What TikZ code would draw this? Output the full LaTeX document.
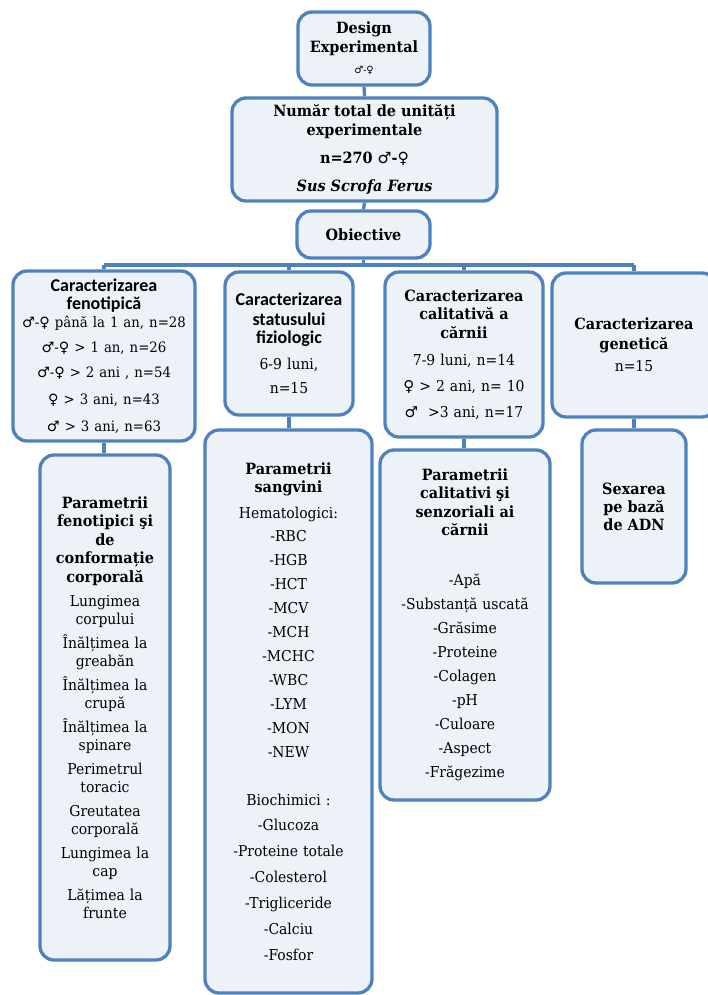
\documentclass[tikz,border=0pt]{standalone}
\usepackage{fontspec}
\setmainfont{DejaVu Serif}[FakeStretch=0.93]
\newfontfamily\headsans{Carlito}
\newfontfamily\symfont{DejaVu Sans}
\usetikzlibrary{positioning}
\definecolor{boxblue}{RGB}{79,129,189}
\definecolor{boxfill}{RGB}{237,242,249}
\newcommand{\msym}{{\symfont ♂}}
\newcommand{\fsym}{{\symfont ♀}}
\newcommand{\bodyfont}{\rmfamily\mdseries\fontsize{15}{17.5}\selectfont}
\newcommand{\headfont}{\bfseries\fontsize{15.5}{18.5}\selectfont}
\newcommand{\sansfont}{\headsans\bfseries\fontsize{18}{18}\selectfont}

\begin{document}
\begin{tikzpicture}[x=1pt,y=-1pt,
    box/.style={draw=boxblue, line width=3.3pt, fill=boxfill, rounded corners=14pt,
        align=center, inner sep=3pt, font=\bodyfont},
    link/.style={draw=boxblue, line width=3.3pt}]
    \useasboundingbox (0,0) rectangle (707,995);

    % Top of the tree
    \node[box, minimum width=132pt, minimum height=73pt, text width=124pt] (design) at (364,48.5)
        {\headfont Design\\Experimental\\[4pt]\mdseries\fontsize{10}{12}\selectfont\msym-\fsym};
    \node[box, minimum width=265pt, minimum height=103pt, text width=255pt] (total) at (364.5,149.5)
        {\headfont Număr total de unități\\experimentale\\[10pt]n=270 \msym-\fsym\\[10pt]\itshape Sus Scrofa Ferus};
    \node[box, minimum width=133pt, minimum height=47pt, text width=125pt] (obj) at (363.5,234.5)
        {\headfont Obiective};

    % Objectives
    \node[box, minimum width=182pt, minimum height=170pt, text width=176pt] (fen) at (104,356)
        {\sansfont Caracterizarea\\fenotipică\\[1pt]\bodyfont\fontsize{14.3}{17.5}\selectfont
         \msym-\fsym{} până la 1 an, n=28\\[7pt]\msym-\fsym{} > 1 an, n=26\\[8pt]\msym-\fsym{} > 2 ani , n=54\\[9pt]\fsym{} > 3 ani, n=43\\[10pt]\msym{} > 3 ani, n=63};
    \node[box, minimum width=128pt, minimum height=143pt, text width=122pt] (fiz) at (289,343.5)
        {\sansfont Caracterizarea\\[2pt]statusului\\fiziologic\\[8pt]\bodyfont 6-9 luni,\\[7pt]n=15};
    \node[box, minimum width=158pt, minimum height=165pt, text width=150pt] (cal) at (464,354.5)
        {\headfont Caracterizarea\\calitativă a\\cărnii\\[10pt]\bodyfont 7-9 luni, n=14\\[8pt]\fsym{} > 2 ani, n= 10\\[9pt]\msym{}\ \ >3 ani, n=17};
    \node[box, minimum width=164pt, minimum height=144pt, text width=150pt] (gen) at (634,345)
        {\headfont Caracterizarea\\[1pt]genetică\\[5pt]\bodyfont n=15};

    % Parameters
    \node[box, minimum width=130pt, minimum height=505pt, text width=124pt] (pfen) at (105,707.5)
        {\headfont Parametrii\\fenotipici şi\\de\\conformație\\corporală\\[7pt]\bodyfont
         Lungimea\\corpului\\[7pt]Înălțimea la\\greabăn\\[7pt]Înălțimea la\\crupă\\[7pt]Înălțimea la\\spinare\\[7pt]Perimetrul\\toracic\\[7pt]Greutatea\\corporală\\[7pt]Lungimea la\\cap\\[7pt]Lățimea la\\frunte};
    \node[box, minimum width=167pt, minimum height=563pt, text width=160pt] (sang) at (288.5,711.5)
        {\headfont Parametrii\\sangvini\\[8pt]\bodyfont Hematologici:\\[6pt]-RBC\\[6.5pt]-HGB\\[6.5pt]-HCT\\[6.5pt]-MCV\\[6.5pt]-MCH\\[6.5pt]-MCHC\\[6.5pt]-WBC\\[6.5pt]-LYM\\[6.5pt]-MON\\[6.5pt]-NEW\\[30pt]Biochimici :\\[8pt]-Glucoza\\[8.5pt]-Proteine totale\\[8.5pt]-Colesterol\\[8.5pt]-Trigliceride\\[8.5pt]-Calciu\\[8.5pt]-Fosfor};
    \node[box, minimum width=170pt, minimum height=350pt, text width=164pt] (pcal) at (465,625)
        {\headfont Parametrii\\calitativi şi\\senzoriali ai\\cărnii\\[32pt]\bodyfont -Apă\\[6.5pt]-Substanță uscată\\[6.5pt]-Grăsime\\[6.5pt]-Proteine\\[7pt]-Colagen\\[6.5pt]-pH\\[6.5pt]-Culoare\\[6.5pt]-Aspect\\[6.5pt]-Frăgezime};
    \node[box, minimum width=104pt, minimum height=153pt, text width=98pt] (sex) at (634,506.5)
        {\headfont Sexarea\\pe bază\\de ADN};

    % Connectors
    \coordinate (bus) at (0,265);
    \draw[link] (design.south) -- (total.north);
    \draw[link] (total.south) -- (obj.north);
    \draw[link] (obj.south) -- (obj.south |- bus);
    \draw[link] (fen.north |- bus) -- (gen.north |- bus);
    \foreach \b in {fen,fiz,cal,gen} {
        \draw[link] (\b.north) -- (\b.north |- bus);
    }
    \draw[link] (fen.south) -- (fen.south |- pfen.north);
    \draw[link] (fiz.south) -- (fiz.south |- sang.north);
    \draw[link] (cal.south) -- (cal.south |- pcal.north);
    \draw[link] (gen.south) -- (gen.south |- sex.north);
\end{tikzpicture}
\end{document}
